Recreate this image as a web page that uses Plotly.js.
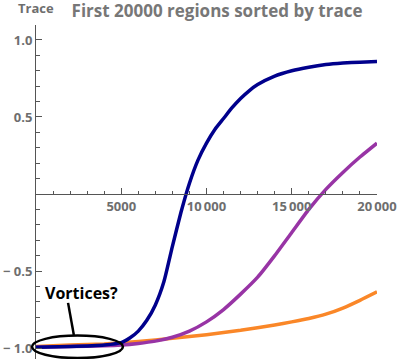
<!DOCTYPE html>
<html>
<head>
<meta charset="utf-8">
<script src="https://cdn.plot.ly/plotly-3.0.1.min.js"></script>
<style>
  html, body { margin: 0; padding: 0; background: #fff; }
  #chart { width: 411px; height: 359px; }
</style>
</head>
<body>
<div id="chart"></div>
<script>
// region index vs. trace
const blueX = [0, 2000, 4000, 5000, 5500, 6000, 6500, 7000, 7500, 8000, 8500, 9000, 9500, 10000, 10500, 11000, 11500, 12000, 12500, 13000, 14000, 15000, 16000, 17000, 18000, 19000, 20000];
const blueY = [-0.995, -0.99, -0.98, -0.965, -0.935, -0.89, -0.82, -0.72, -0.57, -0.34, -0.12, 0.07, 0.22, 0.33, 0.42, 0.49, 0.56, 0.62, 0.67, 0.71, 0.765, 0.80, 0.823, 0.84, 0.85, 0.856, 0.86];

const purpleX = [0, 2000, 4000, 5000, 6000, 7000, 8000, 9000, 10000, 11000, 12000, 13000, 14000, 15000, 16000, 17000, 18000, 19000, 20000];
const purpleY = [-0.995, -0.99, -0.985, -0.98, -0.97, -0.955, -0.93, -0.89, -0.83, -0.75, -0.65, -0.54, -0.40, -0.25, -0.10, 0.03, 0.14, 0.24, 0.33];

const orangeX = [0, 2000, 4000, 6000, 8000, 10000, 12000, 14000, 15000, 16000, 17000, 18000, 19000, 20000];
const orangeY = [-0.99, -0.98, -0.973, -0.958, -0.937, -0.913, -0.885, -0.85, -0.83, -0.808, -0.78, -0.74, -0.69, -0.635];

const xTickVals = [5000, 10000, 15000, 20000];
const xTickText = ['5000', '10\u2009000', '15\u2009000', '20\u2009000'];
const yTickVals = [-1, -0.5, 0.5, 1];
const yTickText = ['\u2212 1.0', '\u2212 0.5', '0.5', '1.0'];

const gray = '#6e6e6e';
const axisColor = '#555';

function line(x, y, color) {
    return {
        x: x, y: y,
        mode: 'lines',
        type: 'scatter',
        line: { color: color, width: 3.5, shape: 'spline', smoothing: 0.5 },
        hoverinfo: 'skip'
    };
}

// orange first, blue last (on top)
const traces = [
    line(orangeX, orangeY, 'rgb(250,135,40)'),
    line(purpleX, purpleY, 'rgb(152,52,165)'),
    line(blueX, blueY, 'rgb(0,0,140)')
];

const layout = {
    width: 411,
    height: 359,
    margin: { l: 36, r: 34, t: 25, b: 0 },
    paper_bgcolor: '#fff',
    plot_bgcolor: '#fff',
    showlegend: false,
    font: { family: 'Open Sans, sans-serif', color: gray },
    title: {
        text: 'First 20000 regions sorted by trace',
        font: { size: 17, color: '#777', weight: 'bold' },
        x: 0.528, xanchor: 'center',
        y: 0.97, yanchor: 'middle'
    },
    xaxis: {
        range: [0, 20000],
        anchor: 'free',
        position: 0.494,
        showline: true, linecolor: axisColor, linewidth: 1,
        showgrid: false, zeroline: false,
        ticks: 'inside', ticklen: 6, tickcolor: axisColor,
        tickmode: 'array', tickvals: xTickVals, ticktext: xTickText,
        tickfont: { size: 13, color: gray, weight: 'bold' },
        minor: { tickmode: 'linear', tick0: 0, dtick: 1000, ticks: 'inside', ticklen: 3.5, tickcolor: axisColor, showgrid: false }
    },
    yaxis: {
        range: [-1.071, 1.097],
        showline: true, linecolor: axisColor, linewidth: 1,
        showgrid: false, zeroline: false,
        ticks: 'inside', ticklen: 6, tickcolor: axisColor,
        tickmode: 'array', tickvals: yTickVals, ticktext: yTickText,
        tickfont: { size: 13, color: gray, weight: 'bold' },
        minor: { tickmode: 'linear', tick0: 0, dtick: 0.1, ticks: 'inside', ticklen: 3.5, tickcolor: axisColor, showgrid: false }
    },
    annotations: [
        {
            text: 'Trace', xref: 'paper', yref: 'paper',
            x: 0, y: 1.051, xanchor: 'center', yanchor: 'middle',
            showarrow: false,
            font: { size: 13, color: gray, weight: 'bold' }
        },
        {
            text: 'Vortices?', xref: 'paper', yref: 'paper',
            x: 0.133, y: 0.198, xanchor: 'center', yanchor: 'middle',
            showarrow: false,
            font: { size: 16, color: '#000', weight: 'bold' }
        }
    ],
    shapes: [
        {
            type: 'circle', xref: 'paper', yref: 'paper',
            x0: -0.0117, x1: 0.255, y0: 0.003, y1: 0.07,
            line: { color: '#000', width: 2.5 }
        },
        {
            type: 'line', xref: 'paper', yref: 'paper',
            x0: 0.094, y0: 0.168, x1: 0.111, y1: 0.072,
            line: { color: '#000', width: 2.5 }
        }
    ]
};

Plotly.newPlot('chart', traces, layout, { displayModeBar: false, staticPlot: true });
</script>
</body>
</html>
